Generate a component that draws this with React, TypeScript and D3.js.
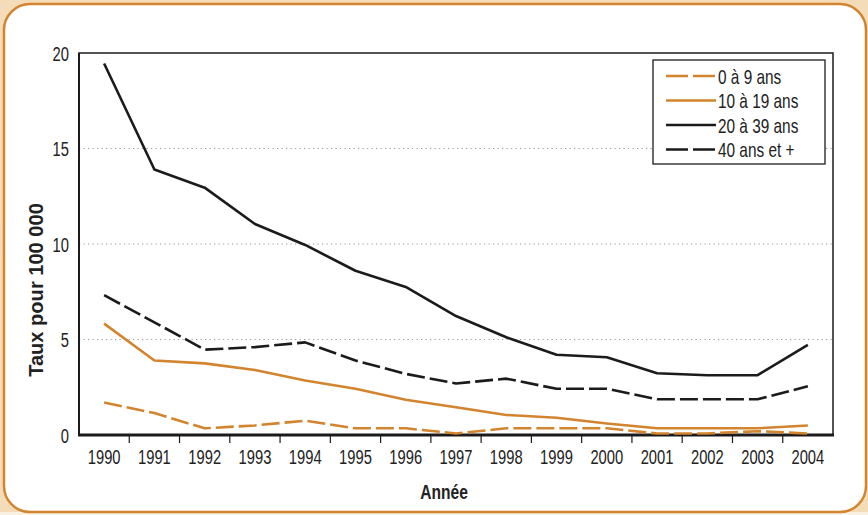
import React from 'react';
import * as d3 from 'd3';

const years = ['1990','1991','1992','1993','1994','1995','1996','1997','1998','1999','2000','2001','2002','2003','2004'];
const age0to9 = [1.7, 1.15, 0.35, 0.5, 0.75, 0.35, 0.35, 0.08, 0.35, 0.35, 0.35, 0.08, 0.08, 0.2, 0.08];
const age10to19 = [5.83, 3.9, 3.75, 3.4, 2.85, 2.42, 1.85, 1.45, 1.05, 0.9, 0.6, 0.35, 0.35, 0.35, 0.5];
const age20to39 = [19.45, 13.9, 12.95, 11.05, 9.95, 8.6, 7.75, 6.23, 5.12, 4.2, 4.07, 3.23, 3.13, 3.13, 4.72];
const age40plus = [7.32, 5.9, 4.47, 4.6, 4.85, 3.9, 3.2, 2.7, 2.95, 2.42, 2.42, 1.87, 1.87, 1.87, 2.55];
const yTicks = [0, 5, 10, 15, 20];

const ORANGE = '#d2842f';
const BLACK = '#1c1a1a';
const FONT = '"Liberation Sans", Arial, sans-serif';

const series = [
  { label: '0 à 9 ans', values: age0to9, color: ORANGE, dash: '18,5' },
  { label: '10 à 19 ans', values: age10to19, color: ORANGE, dash: null },
  { label: '20 à 39 ans', values: age20to39, color: BLACK, dash: null },
  { label: '40 ans et +', values: age40plus, color: BLACK, dash: '18,5' },
];

// texte étroit (police condensée simulée)
const Narrow = ({ x, y, rotate = 0, anchor = 'start', size = 18, sx = 0.75, bold = false, children }: any) => (
  <g transform={`translate(${x},${y}) rotate(${rotate}) scale(${sx},1)`}>
    <text textAnchor={anchor} fontFamily={FONT} fontSize={size} fontWeight={bold ? 'bold' : 'normal'} fill="#222">{children}</text>
  </g>
);

export default function App() {
  const width = 868;
  const height = 515;
  const left = 79, right = 833, top = 53, bottom = 435;

  const x = d3.scaleBand().domain(years).range([left, right]).padding(0);
  const y = d3.scaleLinear().domain([0, 20]).range([bottom, top]);
  const line = d3.line<number>()
    .x((_, i) => (x(years[i]) as number) + x.bandwidth() / 2)
    .y(d => y(d));

  const legendX = 653, legendY = 60;

  return (
    <svg width={width} height={height} viewBox={`0 0 ${width} ${height}`}
      style={{ position: 'absolute', left: 0, top: 0, display: 'block' }}>
      <rect x={0} y={0} width={width} height={height} fill="#f4dcb8" />
      <rect x={0} y={height - 3} width={width} height={3} fill="#faf0e2" />
      <rect x={4} y={4} width={862} height={508} rx={26} ry={26} fill="#fff" stroke={ORANGE} strokeWidth={2.5} />

      {/* grille pointillée */}
      {yTicks.filter(t => t > 0 && t < 20).map(t => (
        <line key={t} x1={left} x2={right} y1={y(t)} y2={y(t)}
          stroke="#9a9a9a" strokeWidth={1.2} strokeDasharray="1.2,3.3" />
      ))}

      {/* cadre */}
      <rect x={left} y={top} width={right - left} height={bottom - top} fill="none" stroke={BLACK} strokeWidth={1.5} />
      <line x1={left} x2={left} y1={top} y2={bottom} stroke={BLACK} strokeWidth={2} />
      <line x1={left - 1} x2={right + 1} y1={bottom} y2={bottom} stroke={BLACK} strokeWidth={3} />

      {/* axe y */}
      {yTicks.map(t => (
        <Narrow key={t} x={69} y={y(t) + 7.5} anchor="end" size={20.5} sx={0.72}>{t}</Narrow>
      ))}

      {/* axe x */}
      {years.slice(1).map(yr => (
        <line key={yr} x1={x(yr)} x2={x(yr)} y1={bottom} y2={bottom + 8} stroke={BLACK} strokeWidth={1.2} />
      ))}
      {years.map(yr => (
        <Narrow key={yr} x={(x(yr) as number) + x.bandwidth() / 2} y={464} anchor="middle" size={20.5} sx={0.72}>{yr}</Narrow>
      ))}

      {series.map(s => (
        <path key={s.label} d={line(s.values) || ''} fill="none" stroke={s.color} strokeWidth={2.6}
          strokeDasharray={s.dash || undefined} strokeLinejoin="round" />
      ))}

      {/* légende */}
      <rect x={legendX} y={legendY} width={172} height={104} fill="#fff" stroke={BLACK} strokeWidth={1.3} />
      {series.map((s, i) => {
        const ly = legendY + 16 + i * 24.5;
        return (
          <g key={s.label}>
            <line x1={legendX + 13} x2={legendX + 63} y1={ly} y2={ly} stroke={s.color} strokeWidth={2.6}
              strokeDasharray={s.dash ? '22,5' : undefined} />
            <Narrow x={legendX + 65} y={ly + 7.5} size={20.5} sx={0.75}>{s.label}</Narrow>
          </g>
        );
      })}

      <Narrow x={43} y={290} rotate={-90} anchor="middle" size={20.5} sx={0.98} bold>Taux pour 100 000</Narrow>
      <Narrow x={444} y={499} anchor="middle" size={20} sx={0.78} bold>Année</Narrow>
    </svg>
  );
}
